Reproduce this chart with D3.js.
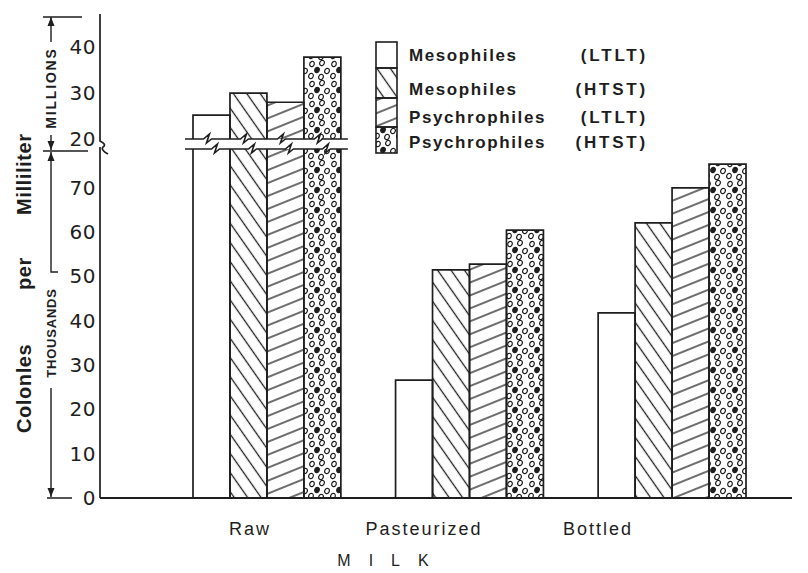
<!DOCTYPE html>
<html><head><meta charset="utf-8">
<script src="https://cdn.jsdelivr.net/npm/d3@7"></script>
<style>
html,body{margin:0;padding:0;background:#fff;}
svg{display:block;}
</style></head>
<body>
<script>
// ---- data (colonies per millilitre, in thousands) ----
const categories = ["Raw", "Pasteurized", "Bottled"];
const seriesNames = ["Mesophiles", "Mesophiles", "Psychrophiles", "Psychrophiles"];
const seriesTreatments = ["(LTLT)", "(HTST)", "(LTLT)", "(HTST)"];
const mesophilesLTLT = [25200, 26.6, 41.8];
const mesophilesHTST = [30000, 51.5, 62.1];
const psychrophilesLTLT = [28000, 52.8, 70.0];
const psychrophilesHTST = [37800, 60.5, 75.4];
const thousandTicks = [0, 10, 20, 30, 40, 50, 60, 70];
const millionTicks = [20, 30, 40];
const yTitleWords = ["Colonles", "per", "Milliliter"];
const xTitle = "MILK";

const series = [mesophilesLTLT, mesophilesHTST, psychrophilesLTLT, psychrophilesHTST];
const patterns = ["none", "url(#hatchSteep)", "url(#hatchShallow)", "url(#dots)"];
const ink = "#1e1e1e";

const W = 808, H = 573;
const svg = d3.select("body").append("svg").attr("width", W).attr("height", H)
  .style("font-family", "'Liberation Sans', Arial, sans-serif");
svg.append("rect").attr("width", W).attr("height", H).attr("fill", "#fff");

// ---- patterns ----
const defs = svg.append("defs");
const pS = defs.append("pattern").attr("id", "hatchSteep").attr("patternUnits", "userSpaceOnUse")
  .attr("width", 11).attr("height", 11).attr("patternTransform", "rotate(-35)");
pS.append("line").attr("x1", 5.5).attr("y1", -1).attr("x2", 5.5).attr("y2", 12).attr("stroke", ink).attr("stroke-width", 1.3);
const pH = defs.append("pattern").attr("id", "hatchShallow").attr("patternUnits", "userSpaceOnUse")
  .attr("width", 12).attr("height", 12).attr("patternTransform", "rotate(-22)");
pH.append("line").attr("x1", -1).attr("y1", 6).attr("x2", 13).attr("y2", 6).attr("stroke", ink).attr("stroke-width", 1.3);
const pD = defs.append("pattern").attr("id", "dots").attr("patternUnits", "userSpaceOnUse")
  .attr("width", 22).attr("height", 20);
[[4,4,0],[14,3,0],[9,10,1],[19,11,0],[3,16,0],[13,17,0]].forEach(([cx, cy, f]) => {
  pD.append("ellipse").attr("cx", cx).attr("cy", cy).attr("rx", 2.2).attr("ry", 2.7)
    .attr("transform", `rotate(25 ${cx} ${cy})`)
    .attr("fill", f ? ink : "none").attr("stroke", ink).attr("stroke-width", 1.2);
});

// ---- scales ----
const yLow = d3.scaleLinear().domain([0, 78.8]).range([498, 149]);   // thousands
const yUp = d3.scaleLinear().domain([20, 47.2]).range([139, 14]);     // millions
const x0 = d3.scaleBand().domain(categories).range([193, 746]).paddingInner(0.27).paddingOuter(0);
const x1 = d3.scaleBand().domain(d3.range(series.length)).range([0, x0.bandwidth()]).padding(0);
const xLabel = d3.scalePoint().domain(categories).range([250, 598]);
const lowMax = yLow.domain()[1];

// ---- bars ----
const bars = [];
categories.forEach((c, i) => series.forEach((s, j) => bars.push({c, j, v: s[i]})));
const g = svg.append("g");
bars.forEach(d => {
  const xl = x0(d.c) + x1(d.j), xr = xl + x1.bandwidth();
  const fill = patterns[d.j] === "none" ? "#fff" : patterns[d.j];
  if (d.v > lowMax) {
    const top = yLow(lowMax);
    g.append("rect").attr("x", xl).attr("y", top).attr("width", xr - xl).attr("height", yLow(0) - top).attr("fill", fill);
    g.append("path").attr("d", `M${xl},${yLow(0)}V${top}M${xr},${top}V${yLow(0)}`)
      .attr("fill", "none").attr("stroke", ink).attr("stroke-width", 1.7);
    const m = d.v / 1000, ut = yUp(m), ub = yUp(20);
    g.append("rect").attr("x", xl).attr("y", ut).attr("width", xr - xl).attr("height", ub - ut).attr("fill", fill);
    g.append("path").attr("d", `M${xl},${ub}V${ut}H${xr}V${ub}`)
      .attr("fill", "none").attr("stroke", ink).attr("stroke-width", 1.7);
  } else {
    const t = yLow(d.v);
    g.append("rect").attr("x", xl).attr("y", t).attr("width", xr - xl).attr("height", yLow(0) - t).attr("fill", fill);
    g.append("path").attr("d", `M${xl},${yLow(0)}V${t}H${xr}V${yLow(0)}`)
      .attr("fill", "none").attr("stroke", ink).attr("stroke-width", 1.7);
  }
});

// ---- break lines across the raw group ----
const rawL = x0(categories[0]) - 8, rawR = x0(categories[0]) + x0.bandwidth() + 7;
function breakPath(y, shift) {
  let p = `M${rawL},${y}`;
  series.forEach((s, j) => {
    const cx = x0(categories[0]) + x1(j) + x1.bandwidth() / 2 + shift;
    p += `H${cx - 4}L${cx + 2},${y - 5}L${cx - 1},${y + 4}L${cx + 4},${y}`;
  });
  return p + `H${rawR}`;
}
svg.append("path").attr("d", breakPath(yUp(20), -4)).attr("fill", "none").attr("stroke", ink).attr("stroke-width", 1.6);
svg.append("path").attr("d", breakPath(yLow(lowMax), 4)).attr("fill", "none").attr("stroke", ink).attr("stroke-width", 1.6);

// ---- axes lines ----
svg.append("path").attr("d", `M100,${yUp.range()[1]}V141C104,143 106,145 103,147C101,149 104,152 108,154M100,147V${yLow(0)}`)
  .attr("fill", "none").attr("stroke", ink).attr("stroke-width", 1.7);
svg.append("line").attr("x1", 100).attr("x2", 792).attr("y1", yLow(0)).attr("y2", yLow(0))
  .attr("stroke", ink).attr("stroke-width", 1.8);

// ---- tick labels ----
function styleAxis(sel) {
  sel.select(".domain").remove();
  sel.selectAll("text").attr("font-size", 20).attr("fill", ink).attr("font-family", "'DejaVu Sans', sans-serif")
    .attr("letter-spacing", 0.5);
}
svg.append("g").attr("transform", "translate(99,0)")
  .call(d3.axisLeft(yLow).tickValues(thousandTicks).tickSize(0).tickPadding(3).tickFormat(d3.format("d")))
  .call(styleAxis);
svg.append("g").attr("transform", "translate(99,0)")
  .call(d3.axisLeft(yUp).tickValues(millionTicks).tickSize(0).tickPadding(3).tickFormat(d3.format("d")))
  .call(styleAxis);

// ---- MILLIONS / THOUSANDS dimension markers ----
const dim = svg.append("g").attr("stroke", ink).attr("stroke-width", 1.4).attr("fill", "none");
const ax = 51;
function arrowUp(y) { return `M${ax - 3.5},${y + 9}L${ax},${y}L${ax + 3.5},${y + 9}Z`; }
function arrowDown(y) { return `M${ax - 3.5},${y - 9}L${ax},${y}L${ax + 3.5},${y - 9}Z`; }
dim.append("path").attr("d", `M43,17H82M${ax},17V42M${ax},135V150M43,151H88M${ax},152V272H58M${ax},388V497M47,498H72`);
svg.append("path").attr("d", arrowUp(17) + arrowDown(150) + arrowUp(152) + arrowDown(497)).attr("fill", ink);
svg.append("text").attr("transform", `translate(${ax + 5},88) rotate(-90)`).attr("text-anchor", "middle")
  .attr("font-size", 14).attr("font-weight", "bold").attr("fill", ink).attr("letter-spacing", 1.8).text("MILLIONS");
svg.append("text").attr("transform", `translate(${ax + 5},333) rotate(-90)`).attr("text-anchor", "middle")
  .attr("font-size", 13).attr("font-weight", "bold").attr("fill", ink).attr("letter-spacing", 0.8).text("THOUSANDS");

// ---- y title ----
const yt = svg.append("text").attr("transform", "translate(31,0) rotate(-90)")
  .attr("font-size", 20).attr("font-weight", "bold").attr("fill", ink).attr("letter-spacing", 0.6);
const yPos = [433, 290, 215];
yTitleWords.forEach((w, i) => yt.append("tspan").attr("x", -yPos[i]).text(w + (i < 2 ? " " : "")));

// ---- category labels ----
svg.append("g").selectAll("text").data(categories).join("text")
  .attr("x", d => xLabel(d)).attr("y", 535).attr("text-anchor", "middle")
  .attr("font-size", 18).attr("fill", ink).attr("letter-spacing", 2).text(d => d);
svg.append("text").attr("x", 392).attr("y", 566).attr("text-anchor", "middle")
  .attr("font-size", 16).attr("fill", ink).attr("letter-spacing", 18).text(xTitle);

// ---- legend ----
const lg = svg.append("g");
const segs = [[42, 68], [68, 98], [98, 127], [127, 153]];
const textY = [55, 89, 117, 142];
segs.forEach(([a, b], j) => {
  lg.append("rect").attr("x", 376).attr("y", a).attr("width", 21).attr("height", b - a)
    .attr("fill", patterns[j] === "none" ? "#fff" : patterns[j]).attr("stroke", ink).attr("stroke-width", 1.6);
});
seriesNames.forEach((n, j) => {
  lg.append("text").attr("x", 409).attr("y", textY[j] + 6).attr("font-size", 17).attr("font-weight", "bold")
    .attr("fill", ink).attr("letter-spacing", 1.6).text(n);
  lg.append("text").attr("x", 648).attr("y", textY[j] + 6).attr("text-anchor", "end").attr("font-size", 17)
    .attr("font-weight", "bold").attr("fill", ink).attr("letter-spacing", 2.8).text(seriesTreatments[j]);
});
</script>
</body></html>
